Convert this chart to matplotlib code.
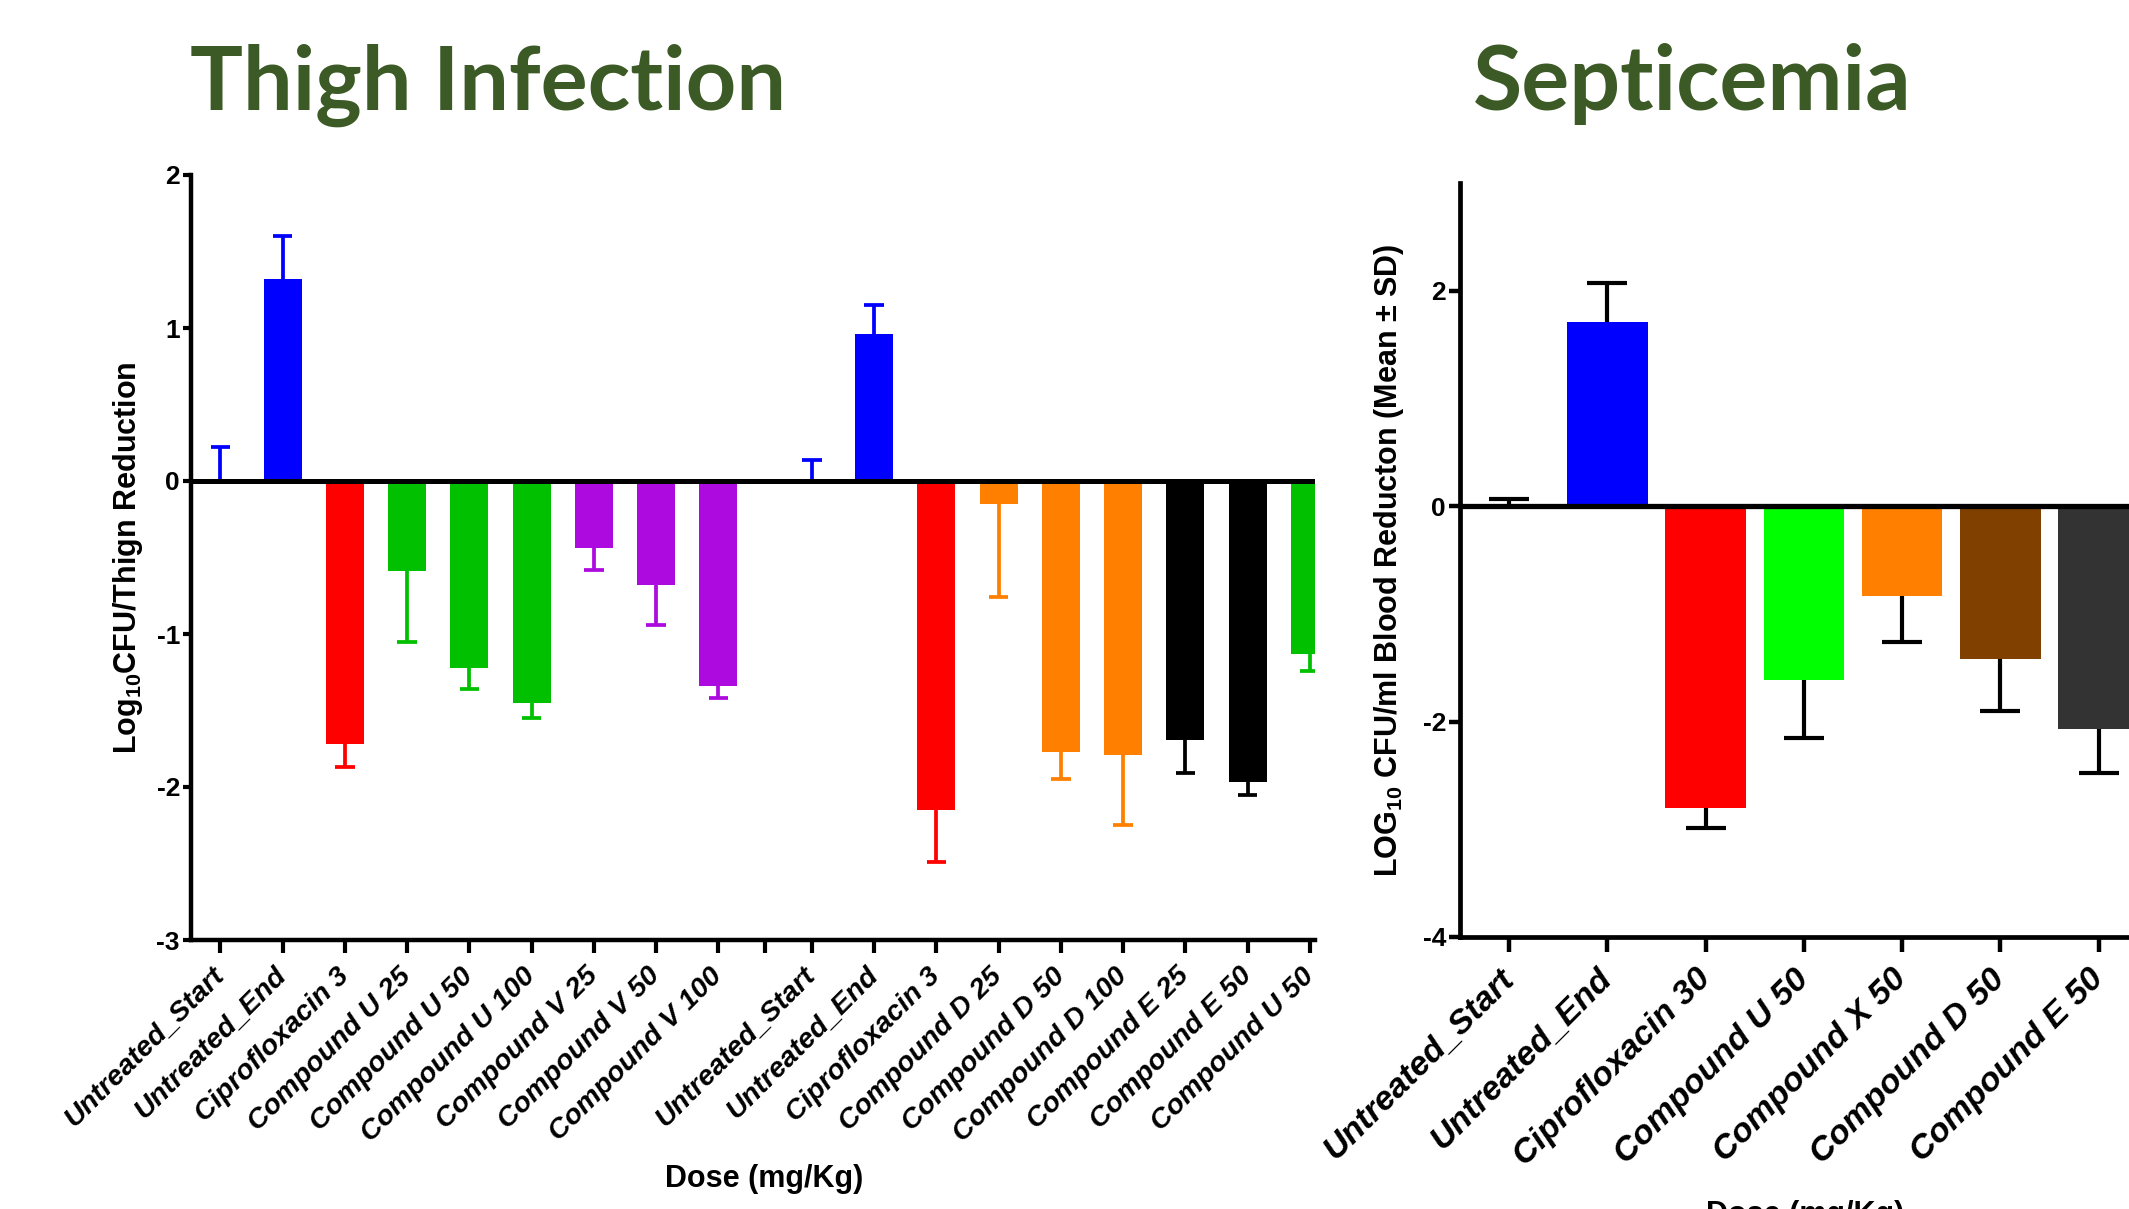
import numpy as np
import matplotlib.pyplot as plt

# bold Arial-like text everywhere, mathtext subscripts in the same face
plt.rcParams['font.family'] = ['Liberation Sans', 'DejaVu Sans']
plt.rcParams['font.weight'] = 'bold'
plt.rcParams['axes.labelweight'] = 'bold'
plt.rcParams['mathtext.fontset'] = 'custom'
plt.rcParams['mathtext.rm'] = 'Liberation Sans:bold'
plt.rcParams['mathtext.bf'] = 'Liberation Sans:bold'
plt.rcParams['mathtext.it'] = 'Liberation Sans:bold:italic'

W, H = 2129, 1209

# ---- thigh infection: two studies of nine groups each
thigh_labels_a = ['Untreated_Start', 'Untreated_End', 'Ciprofloxacin 3',
                  'Compound U 25', 'Compound U 50', 'Compound U 100',
                  'Compound V 25', 'Compound V 50', 'Compound V 100']
thigh_mean_a = [0.0, 1.32, -1.72, -0.59, -1.22, -1.45, -0.44, -0.68, -1.34]
thigh_sd_a = [0.22, 0.28, 0.15, 0.46, 0.14, 0.10, 0.14, 0.26, 0.08]

thigh_labels_b = ['Untreated_Start', 'Untreated_End', 'Ciprofloxacin 3',
                  'Compound D 25', 'Compound D 50', 'Compound D 100',
                  'Compound E 25', 'Compound E 50', 'Compound U 50']
thigh_mean_b = [0.0, 0.96, -2.15, -0.15, -1.77, -1.79, -1.69, -1.97, -1.13]
thigh_sd_b = [0.14, 0.19, 0.34, 0.61, 0.18, 0.46, 0.22, 0.08, 0.11]

thigh_colors_a = ['#0000ff', '#0000ff', '#ff0000', '#00c000', '#00c000',
                  '#00c000', '#ad0ae0', '#ad0ae0', '#ad0ae0']
thigh_colors_b = ['#0000ff', '#0000ff', '#ff0000', '#ff8000', '#ff8000',
                  '#ff8000', '#000000', '#000000', '#00c000']

# ---- septicemia
sep_labels = ['Untreated_Start', 'Untreated_End', 'Ciprofloxacin 30',
              'Compound U 50', 'Compound X 50', 'Compound D 50', 'Compound E 50']
sep_mean = [0.0, 1.71, -2.80, -1.61, -0.83, -1.42, -2.07]
sep_sd = [0.07, 0.36, 0.19, 0.54, 0.43, 0.48, 0.41]
sep_colors = ['#0000ff', '#0000ff', '#ff0000', '#00ff00', '#ff8000',
              '#804000', '#333333']


def sd_whisker(ax, x, mean, sd, color, lw, cap):
    # whisker only points away from zero, with a single cap at its tip
    mean = np.asarray(mean, dtype=float)
    tip = np.where(mean < 0, mean - np.asarray(sd), mean + np.asarray(sd))
    ax.vlines(x, mean, tip, colors=color, lw=lw, zorder=3)
    ax.scatter(x, tip, marker='_', s=cap ** 2, c=color, linewidths=lw,
               zorder=3)


def style_axes(ax, lw):
    for side in ['top', 'right']:
        ax.spines[side].set_visible(False)
    for side in ['left', 'bottom']:
        ax.spines[side].set_linewidth(lw)
    ax.axhline(0, color='black', lw=lw + 0.4, zorder=4)


fig = plt.figure(figsize=(W / 100, H / 100), dpi=100)

# ---------------- Thigh Infection ----------------
ax1 = fig.add_axes([191 / W, 1 - 940 / H, 1124 / W, 765 / H])
xa = np.arange(len(thigh_labels_a))
xb = np.arange(len(thigh_labels_b)) + len(thigh_labels_a) + 0.5
gap_tick = len(thigh_labels_a) - 0.25

ax1.bar(xa, thigh_mean_a, width=0.61, color=thigh_colors_a, zorder=2)
ax1.bar(xb, thigh_mean_b, width=0.61, color=thigh_colors_b, zorder=2)
sd_whisker(ax1, xa, thigh_mean_a, thigh_sd_a, thigh_colors_a, 2.7, 14)
sd_whisker(ax1, xb, thigh_mean_b, thigh_sd_b, thigh_colors_b, 2.7, 14)

ax1.set_xlim(-0.47, 17.58)
ax1.set_ylim(-3, 2)
ax1.set_yticks([-3, -2, -1, 0, 1, 2])
ax1.set_yticklabels(['-3', '-2', '-1', '0', '1', '2'], fontsize=19,
                    fontweight='bold')
ax1.set_xticks(np.r_[xa, gap_tick, xb])
ax1.set_xticklabels(thigh_labels_a + [''] + thigh_labels_b, rotation=45,
                    ha='right', va='center', rotation_mode='anchor',
                    fontsize=20.5, style='italic', fontweight='bold')
ax1.tick_params(axis='x', length=9, width=3, pad=14)
ax1.tick_params(axis='y', length=6, width=3, pad=2)
style_axes(ax1, 3.2)
ax1.set_ylabel('Log$_{10}$CFU/Thign Reduction', fontsize=22,
               fontweight='bold', labelpad=8)

fig.text(764 / W, 1 - 1179 / H, 'Dose (mg/Kg)', ha='center', va='center',
         fontsize=22, fontweight='bold')

# ---------------- Septicemia ----------------
ax2 = fig.add_axes([1460 / W, 1 - 937 / H, 727 / W, 754 / H])
xs = np.arange(len(sep_labels))
ax2.bar(xs, sep_mean, width=0.82, color=sep_colors, zorder=2)
sd_whisker(ax2, xs, sep_mean, sep_sd, 'black', 3.0, 29)
ax2.set_xlim(-0.5, 6.9)
ax2.set_ylim(-4, 3)
ax2.set_yticks([-4, -2, 0, 2])
ax2.set_yticklabels(['-4', '-2', '0', '2'], fontsize=19, fontweight='bold')
ax2.set_xticks(xs)
ax2.set_xticklabels(sep_labels, rotation=45, ha='right', va='center',
                    rotation_mode='anchor', fontsize=24.5, style='italic',
                    fontweight='bold')
ax2.tick_params(axis='x', length=11, width=3.2, pad=16)
ax2.tick_params(axis='y', length=8, width=3.2, pad=2)
style_axes(ax2, 3.4)
ax2.set_ylabel('LOG$_{10}$ CFU/ml Blood Reducton (Mean $\\pm$ SD)',
               fontsize=22, fontweight='bold', labelpad=12)

fig.text(1805 / W, 1 - 1200 / H, 'Dose (mg/Kg)', ha='center', va='top',
         fontsize=22, fontweight='bold')

# slide titles
title_color = '#3b5a25'
fig.text(488 / W, 1 - 110 / H, 'Thigh Infection', ha='center',
         va='baseline', fontsize=63.5, family='Lato', weight='bold',
         color=title_color)
fig.text(1692 / W, 1 - 110 / H, 'Septicemia', ha='center',
         va='baseline', fontsize=64.5, family='Lato', weight='bold',
         color=title_color)

fig.savefig('out.png', dpi=100)
